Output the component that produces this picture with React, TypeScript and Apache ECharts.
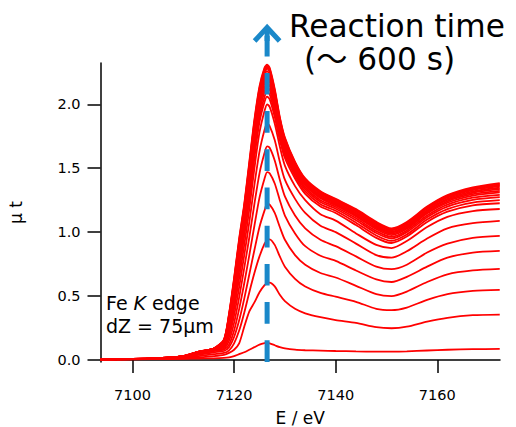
import React, { useEffect, useRef } from "react";
import * as echarts from "echarts";

// Photon energy grid (eV)
const energies = [7093.7, 7104, 7110, 7113, 7116, 7118, 7119, 7120, 7121, 7122, 7123, 7124, 7125, 7126, 7126.5, 7127, 7128, 7129, 7130, 7132, 7134, 7137, 7140, 7144, 7148, 7151, 7154, 7158, 7162, 7167, 7172.3];

// μt spectra, earliest (bottom) to latest (top)
const spec01 = [0.005, 0.006, 0.009, 0.011, 0.013, 0.016, 0.02, 0.03, 0.045, 0.06, 0.08, 0.1, 0.12, 0.132, 0.135, 0.13, 0.115, 0.1, 0.09, 0.08, 0.076, 0.073, 0.07, 0.067, 0.065, 0.065, 0.067, 0.074, 0.08, 0.084, 0.087];
const spec02 = [0.005, 0.007, 0.012, 0.02, 0.03, 0.04, 0.055, 0.08, 0.13, 0.26, 0.38, 0.45, 0.53, 0.585, 0.6, 0.605, 0.575, 0.51, 0.46, 0.4, 0.365, 0.335, 0.312, 0.29, 0.256, 0.248, 0.26, 0.3, 0.33, 0.35, 0.355];
const spec03 = [0.005, 0.008, 0.018, 0.03, 0.045, 0.055, 0.075, 0.13, 0.23, 0.37, 0.53, 0.68, 0.81, 0.91, 0.935, 0.944, 0.9, 0.81, 0.73, 0.635, 0.575, 0.525, 0.495, 0.455, 0.4, 0.39, 0.41, 0.47, 0.515, 0.54, 0.548];
const spec04 = [0.005, 0.009, 0.02, 0.04, 0.06, 0.07, 0.1, 0.18, 0.31, 0.48, 0.67, 0.86, 1.04, 1.17, 1.22, 1.215, 1.15, 1.04, 0.94, 0.82, 0.745, 0.68, 0.645, 0.58, 0.515, 0.5, 0.535, 0.61, 0.67, 0.7, 0.712];
const spec05 = [0.005, 0.01, 0.022, 0.045, 0.07, 0.08, 0.12, 0.23, 0.4, 0.6, 0.82, 1.05, 1.27, 1.42, 1.47, 1.46, 1.38, 1.25, 1.13, 0.99, 0.89, 0.815, 0.775, 0.7, 0.63, 0.61, 0.65, 0.73, 0.8, 0.84, 0.853];
const spec06 = [0.005, 0.01, 0.024, 0.05, 0.075, 0.09, 0.15, 0.29, 0.49, 0.72, 0.96, 1.22, 1.46, 1.62, 1.67, 1.66, 1.56, 1.41, 1.28, 1.13, 1.03, 0.94, 0.89, 0.81, 0.73, 0.71, 0.745, 0.84, 0.91, 0.955, 0.97];
const spec07 = [0.005, 0.011, 0.026, 0.055, 0.08, 0.1, 0.18, 0.35, 0.57, 0.82, 1.08, 1.37, 1.63, 1.8, 1.85, 1.83, 1.72, 1.55, 1.41, 1.26, 1.15, 1.05, 1.0, 0.91, 0.82, 0.8, 0.85, 0.95, 1.03, 1.07, 1.088];
const spec08 = [0.005, 0.011, 0.027, 0.06, 0.085, 0.11, 0.21, 0.4, 0.64, 0.9, 1.18, 1.5, 1.78, 1.95, 2.0, 1.98, 1.85, 1.67, 1.52, 1.36, 1.25, 1.14, 1.09, 0.99, 0.9, 0.875, 0.93, 1.04, 1.12, 1.165, 1.181];
const spec09 = [0.005, 0.011, 0.028, 0.06, 0.085, 0.12, 0.24, 0.44, 0.7, 0.97, 1.25, 1.58, 1.86, 2.02, 2.06, 2.04, 1.9, 1.72, 1.58, 1.42, 1.3, 1.2, 1.15, 1.055, 0.955, 0.915, 0.965, 1.08, 1.16, 1.21, 1.226];
const spec10 = [0.005, 0.011, 0.028, 0.061, 0.086, 0.126, 0.258, 0.47, 0.738, 1.008, 1.295, 1.625, 1.902, 2.06, 2.099, 2.078, 1.933, 1.747, 1.604, 1.44, 1.318, 1.218, 1.167, 1.074, 0.974, 0.932, 0.982, 1.098, 1.18, 1.231, 1.25];
const spec11 = [0.005, 0.011, 0.029, 0.061, 0.086, 0.132, 0.276, 0.5, 0.775, 1.045, 1.34, 1.67, 1.944, 2.1, 2.138, 2.115, 1.966, 1.774, 1.628, 1.459, 1.336, 1.236, 1.183, 1.093, 0.993, 0.95, 1.0, 1.116, 1.199, 1.252, 1.273];
const spec12 = [0.005, 0.011, 0.029, 0.062, 0.087, 0.137, 0.29, 0.524, 0.805, 1.075, 1.376, 1.706, 1.978, 2.133, 2.169, 2.145, 1.992, 1.796, 1.647, 1.475, 1.35, 1.25, 1.196, 1.108, 1.008, 0.963, 1.013, 1.13, 1.215, 1.269, 1.292];
const spec13 = [0.005, 0.012, 0.029, 0.062, 0.087, 0.142, 0.305, 0.548, 0.835, 1.105, 1.412, 1.742, 2.011, 2.166, 2.2, 2.175, 2.019, 1.817, 1.666, 1.49, 1.365, 1.265, 1.209, 1.123, 1.023, 0.977, 1.027, 1.145, 1.23, 1.286, 1.311];
const spec14 = [0.005, 0.012, 0.029, 0.063, 0.088, 0.145, 0.314, 0.564, 0.855, 1.125, 1.436, 1.766, 2.034, 2.187, 2.221, 2.195, 2.036, 1.832, 1.679, 1.501, 1.374, 1.274, 1.218, 1.133, 1.033, 0.986, 1.036, 1.154, 1.241, 1.297, 1.323];
const spec15 = [0.005, 0.012, 0.029, 0.063, 0.088, 0.148, 0.324, 0.58, 0.875, 1.145, 1.46, 1.79, 2.056, 2.209, 2.242, 2.215, 2.054, 1.846, 1.692, 1.511, 1.384, 1.284, 1.227, 1.143, 1.043, 0.996, 1.046, 1.164, 1.251, 1.308, 1.336];
const spec16 = [0.005, 0.012, 0.03, 0.064, 0.089, 0.151, 0.332, 0.594, 0.893, 1.163, 1.481, 1.811, 2.076, 2.228, 2.26, 2.233, 2.069, 1.859, 1.703, 1.52, 1.392, 1.292, 1.235, 1.151, 1.051, 1.004, 1.054, 1.172, 1.26, 1.318, 1.347];
const spec17 = [0.005, 0.012, 0.03, 0.064, 0.089, 0.154, 0.342, 0.61, 0.913, 1.183, 1.505, 1.835, 2.098, 2.25, 2.281, 2.253, 2.087, 1.873, 1.716, 1.531, 1.402, 1.302, 1.244, 1.161, 1.061, 1.013, 1.063, 1.182, 1.271, 1.329, 1.359];
const spec18 = [0.005, 0.012, 0.03, 0.065, 0.09, 0.156, 0.348, 0.62, 0.925, 1.195, 1.52, 1.85, 2.112, 2.263, 2.294, 2.265, 2.098, 1.882, 1.724, 1.537, 1.408, 1.308, 1.249, 1.168, 1.068, 1.019, 1.069, 1.188, 1.277, 1.336, 1.367];
const spec19 = [0.005, 0.012, 0.03, 0.065, 0.09, 0.158, 0.354, 0.63, 0.938, 1.208, 1.535, 1.865, 2.126, 2.277, 2.3, 2.278, 2.109, 1.891, 1.732, 1.544, 1.414, 1.314, 1.255, 1.174, 1.074, 1.024, 1.074, 1.194, 1.284, 1.343, 1.375];
const spec20 = [0.005, 0.012, 0.03, 0.065, 0.09, 0.16, 0.36, 0.64, 0.95, 1.22, 1.55, 1.88, 2.14, 2.288, 2.31, 2.285, 2.12, 1.9, 1.74, 1.55, 1.42, 1.32, 1.26, 1.18, 1.08, 1.03, 1.08, 1.2, 1.29, 1.35, 1.383];

const spectra = [spec01, spec02, spec03, spec04, spec05, spec06, spec07, spec08, spec09, spec10, spec11, spec12, spec13, spec14, spec15, spec16, spec17, spec18, spec19, spec20];

const xTicks = [7100, 7120, 7140, 7160];
const yTicks = [0, 0.5, 1.0, 1.5, 2.0];
const xMin = 7093.7;
const xMax = 7172.35;
const yMin = -0.016;
const yMax = 2.323;
const arrowEnergy = 7126.5;

const BLUE = "#1a88c9";
const AXIS_FONT = "DejaVu Sans";
const TITLE_FONT = "DejaVu Sans, Noto Sans CJK JP";

export default function App() {
  const ref = useRef<HTMLDivElement>(null);
  useEffect(() => {
    if (!ref.current) return;
    const chart = echarts.init(ref.current, undefined, { renderer: "svg" });
    const series = spectra.map((s, i) => ({
      type: "line",
      name: "spectrum " + (i + 1),
      data: energies.map((e, j) => [e, s[j]]),
      symbol: "none",
      showSymbol: false,
      smooth: 0.25,
      clip: false,
      silent: true,
      z: 2,
      lineStyle: { color: "#ff0000", width: 1.8 },
    }));
    chart.setOption({
      animation: false,
      backgroundColor: "#ffffff",
      grid: { left: 100.5, right: 16, top: 63, bottom: 65, containLabel: false, outerBoundsMode: "none" },
      xAxis: {
        type: "value",
        min: xMin,
        max: xMax,
        name: "E / eV",
        nameLocation: "middle",
        nameGap: 47,
        nameTextStyle: { fontFamily: AXIS_FONT, fontSize: 17, color: "#000" },
        axisLine: { show: true, lineStyle: { color: "#000", width: 1.5 } },
        axisTick: { show: true, length: 13, customValues: xTicks, lineStyle: { color: "#000", width: 1.5 } },
        axisLabel: {
          customValues: xTicks,
          margin: 25,
          fontFamily: AXIS_FONT,
          fontSize: 14.5,
          color: "#000",
          formatter: (v: number) => String(Math.round(v)),
        },
        splitLine: { show: false },
      },
      yAxis: {
        type: "value",
        min: yMin,
        max: yMax,
        name: "μ t",
        nameLocation: "middle",
        nameGap: 76,
        nameTextStyle: { fontFamily: AXIS_FONT, fontSize: 17, color: "#000" },
        axisLine: { show: true, lineStyle: { color: "#000", width: 1.5 } },
        axisTick: { show: true, length: 13, customValues: yTicks, lineStyle: { color: "#000", width: 1.5 } },
        axisLabel: {
          customValues: yTicks,
          margin: 20,
          fontFamily: AXIS_FONT,
          fontSize: 14.5,
          color: "#000",
          formatter: (v: number) => v.toFixed(1),
        },
        splitLine: { show: false },
      },
      series,
    });

    const pb = chart.convertToPixel({ gridIndex: 0 }, [arrowEnergy, yMin]) as number[];
    const pt = chart.convertToPixel({ gridIndex: 0 }, [arrowEnergy, yMax]) as number[];
    const ax = pb[0];
    const yBottom = pb[1];
    const tipY = pt[1] - 35.5;

    chart.setOption({
      graphic: [
        {
          type: "line",
          z: 100,
          silent: true,
          shape: { x1: ax, y1: yBottom, x2: ax, y2: pt[1] - 27 },
          style: { stroke: BLUE, lineWidth: 5, lineDash: [21.7, 16.5], lineCap: "butt" },
        },
        {
          type: "line",
          z: 100,
          silent: true,
          shape: { x1: ax, y1: tipY, x2: ax, y2: pt[1] - 22 },
          style: { stroke: BLUE, lineWidth: 5 },
        },
        {
          type: "polyline",
          z: 100,
          silent: true,
          shape: { points: [[ax - 12.5, tipY + 13.5], [ax, tipY], [ax + 12.5, tipY + 13.5]] },
          style: { stroke: BLUE, lineWidth: 5, fill: "none", lineJoin: "miter" },
        },
        {
          type: "text",
          z: 100,
          silent: true,
          x: 289,
          y: 25.5,
          style: {
            text: "Reaction time",
            fontFamily: TITLE_FONT,
            fontSize: 31.2,
            fill: "#000",
            align: "left",
            verticalAlign: "middle",
          },
        },
        {
          type: "text",
          z: 100,
          silent: true,
          x: 304,
          y: 58.5,
          style: {
            text: "(〜 600 s)",
            fontFamily: TITLE_FONT,
            fontSize: 31.2,
            fill: "#000",
            align: "left",
            verticalAlign: "middle",
          },
        },
        {
          type: "text",
          z: 100,
          silent: true,
          x: 106,
          y: 303,
          style: {
            text: "Fe {k|K} edge",
            fontFamily: AXIS_FONT,
            fontSize: 19,
            fill: "#000",
            align: "left",
            verticalAlign: "middle",
            rich: { k: { fontFamily: AXIS_FONT, fontSize: 19, fontStyle: "italic", fill: "#000" } },
          },
        },
        {
          type: "text",
          z: 100,
          silent: true,
          x: 106,
          y: 325.5,
          style: {
            text: "dZ = 75μm",
            fontFamily: AXIS_FONT,
            fontSize: 19,
            fill: "#000",
            align: "left",
            verticalAlign: "middle",
          },
        },
      ],
    });
    return () => chart.dispose();
  }, []);
  return (
    <div
      ref={ref}
      style={{ position: "fixed", left: 0, top: 0, width: 516, height: 427, background: "#fff" }}
    />
  );
}
